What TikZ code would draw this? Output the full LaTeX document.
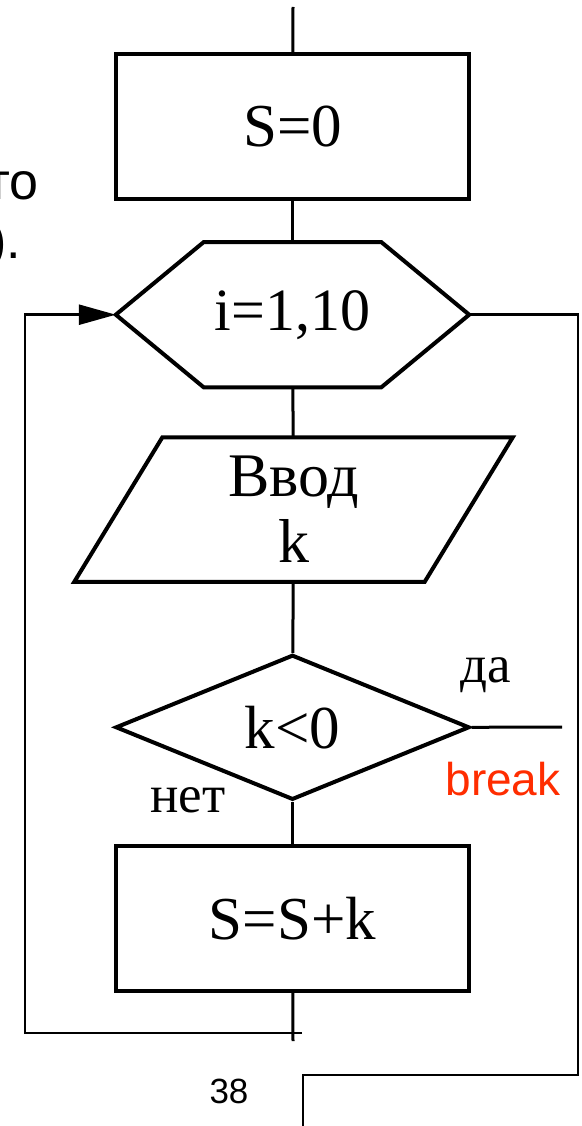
\documentclass[tikz,border=0pt]{standalone}
\usepackage{fontspec}
\setmainfont{Liberation Serif}
\newfontfamily\arialfont{Liberation Sans}
\usetikzlibrary{shapes.geometric,positioning,arrows.meta}
\definecolor{breakred}{RGB}{255,45,0}

\begin{document}
\begin{tikzpicture}[
    x=1pt, y=1pt,
    >={Triangle[length=37pt, width=20pt]},
    node distance=43pt,
    flowline/.style={line width=3pt},
    loopline/.style={line width=2.5pt},
    shapeline/.style={line width=4pt},
    procbox/.style={
        rectangle, draw=black, line width=4pt, minimum width=353pt,
        minimum height=145pt, font=\fontsize{61}{66}\selectfont
      },
    hexbox/.style={
        minimum width=353pt, minimum height=145pt, inner sep=0pt,
        font=\fontsize{60}{66}\selectfont
      },
    iobox/.style={
        minimum width=438pt, minimum height=144pt, inner sep=0pt,
        align=center, font=\fontsize{62}{66}\selectfont
      },
    condbox/.style={
        diamond, draw=black, line width=4pt, minimum width=354pt,
        minimum height=145pt, inner sep=0pt, font=\fontsize{61}{66}\selectfont
      },
    branchtext/.style={font=\fontsize{53}{56}\selectfont, inner sep=0pt},
    slidetext/.style={font=\arialfont\fontsize{52}{56}\selectfont, inner sep=0pt},
  ]
  \useasboundingbox (0,0) rectangle (581,-1126);

  % blocks
  \node[procbox](init) at (292.5,-126.5) {S=0};
  \node[hexbox](loop) [below=41pt of init] {i=1,10};
  \node[iobox](input) [below=50pt of loop, xshift=1pt] {Ввод\\k};
  \node[condbox](cond) [below=71pt of input, xshift=-1pt] {k<0};
  \node[procbox](body) [below=42pt of cond] {S=S+k};

  \draw[shapeline] (loop.west) -- ([xshift=88pt]loop.north west)
    -- ([xshift=-88pt]loop.north east) -- (loop.east)
    -- ([xshift=-88pt]loop.south east) -- ([xshift=88pt]loop.south west) -- cycle;
  \draw[shapeline] ([xshift=88pt]input.north west) -- (input.north east)
    -- ([xshift=-88pt]input.south east) -- (input.south west) -- cycle;

  % labels
  \node[branchtext](yes) at (486,-675) {да};
  \node[branchtext](no) at (188,-800) {нет};
  \node[slidetext, text=breakred, font=\arialfont\fontsize{46}{50}\selectfont](brk) at (503,-779) {break};
  \node[slidetext, font=\arialfont\fontsize{35}{40}\selectfont](page) at (229,-1091) {38};
  \node[slidetext, anchor=base east](frag1) at (39,-200) {то};
  \node[slidetext, anchor=base east](frag2) at (21,-258) {).};

  % free ends
  \coordinate (top) at (293,-7);
  \coordinate (tail) at (293,-1041);
  \coordinate (back) at (302,-1033);
  \coordinate (backcorner) at (25,-1033);
  \coordinate (exitcorner) at (578,-1075);
  \coordinate (exit) at (303,-1075);
  \coordinate (bottom) at (303,-1126);
  \coordinate (yesend) at (562,-727);

  % connectors
  \draw[flowline] (top) -- (init);
  \draw[flowline] (init) -- (loop);
  \draw[flowline] (loop) -- (input);
  \draw[flowline] (input) -- (cond);
  \draw[flowline] (cond) -- (body);
  \draw[flowline] (body) -- (tail);
  \draw[flowline] (cond.east) -- (yesend);
  \draw[loopline, ->] (back) -- (backcorner) |- (loop.west);
  \draw[loopline] (loop.east) -| (exitcorner) -- (exit) -- (bottom);
\end{tikzpicture}
\end{document}
